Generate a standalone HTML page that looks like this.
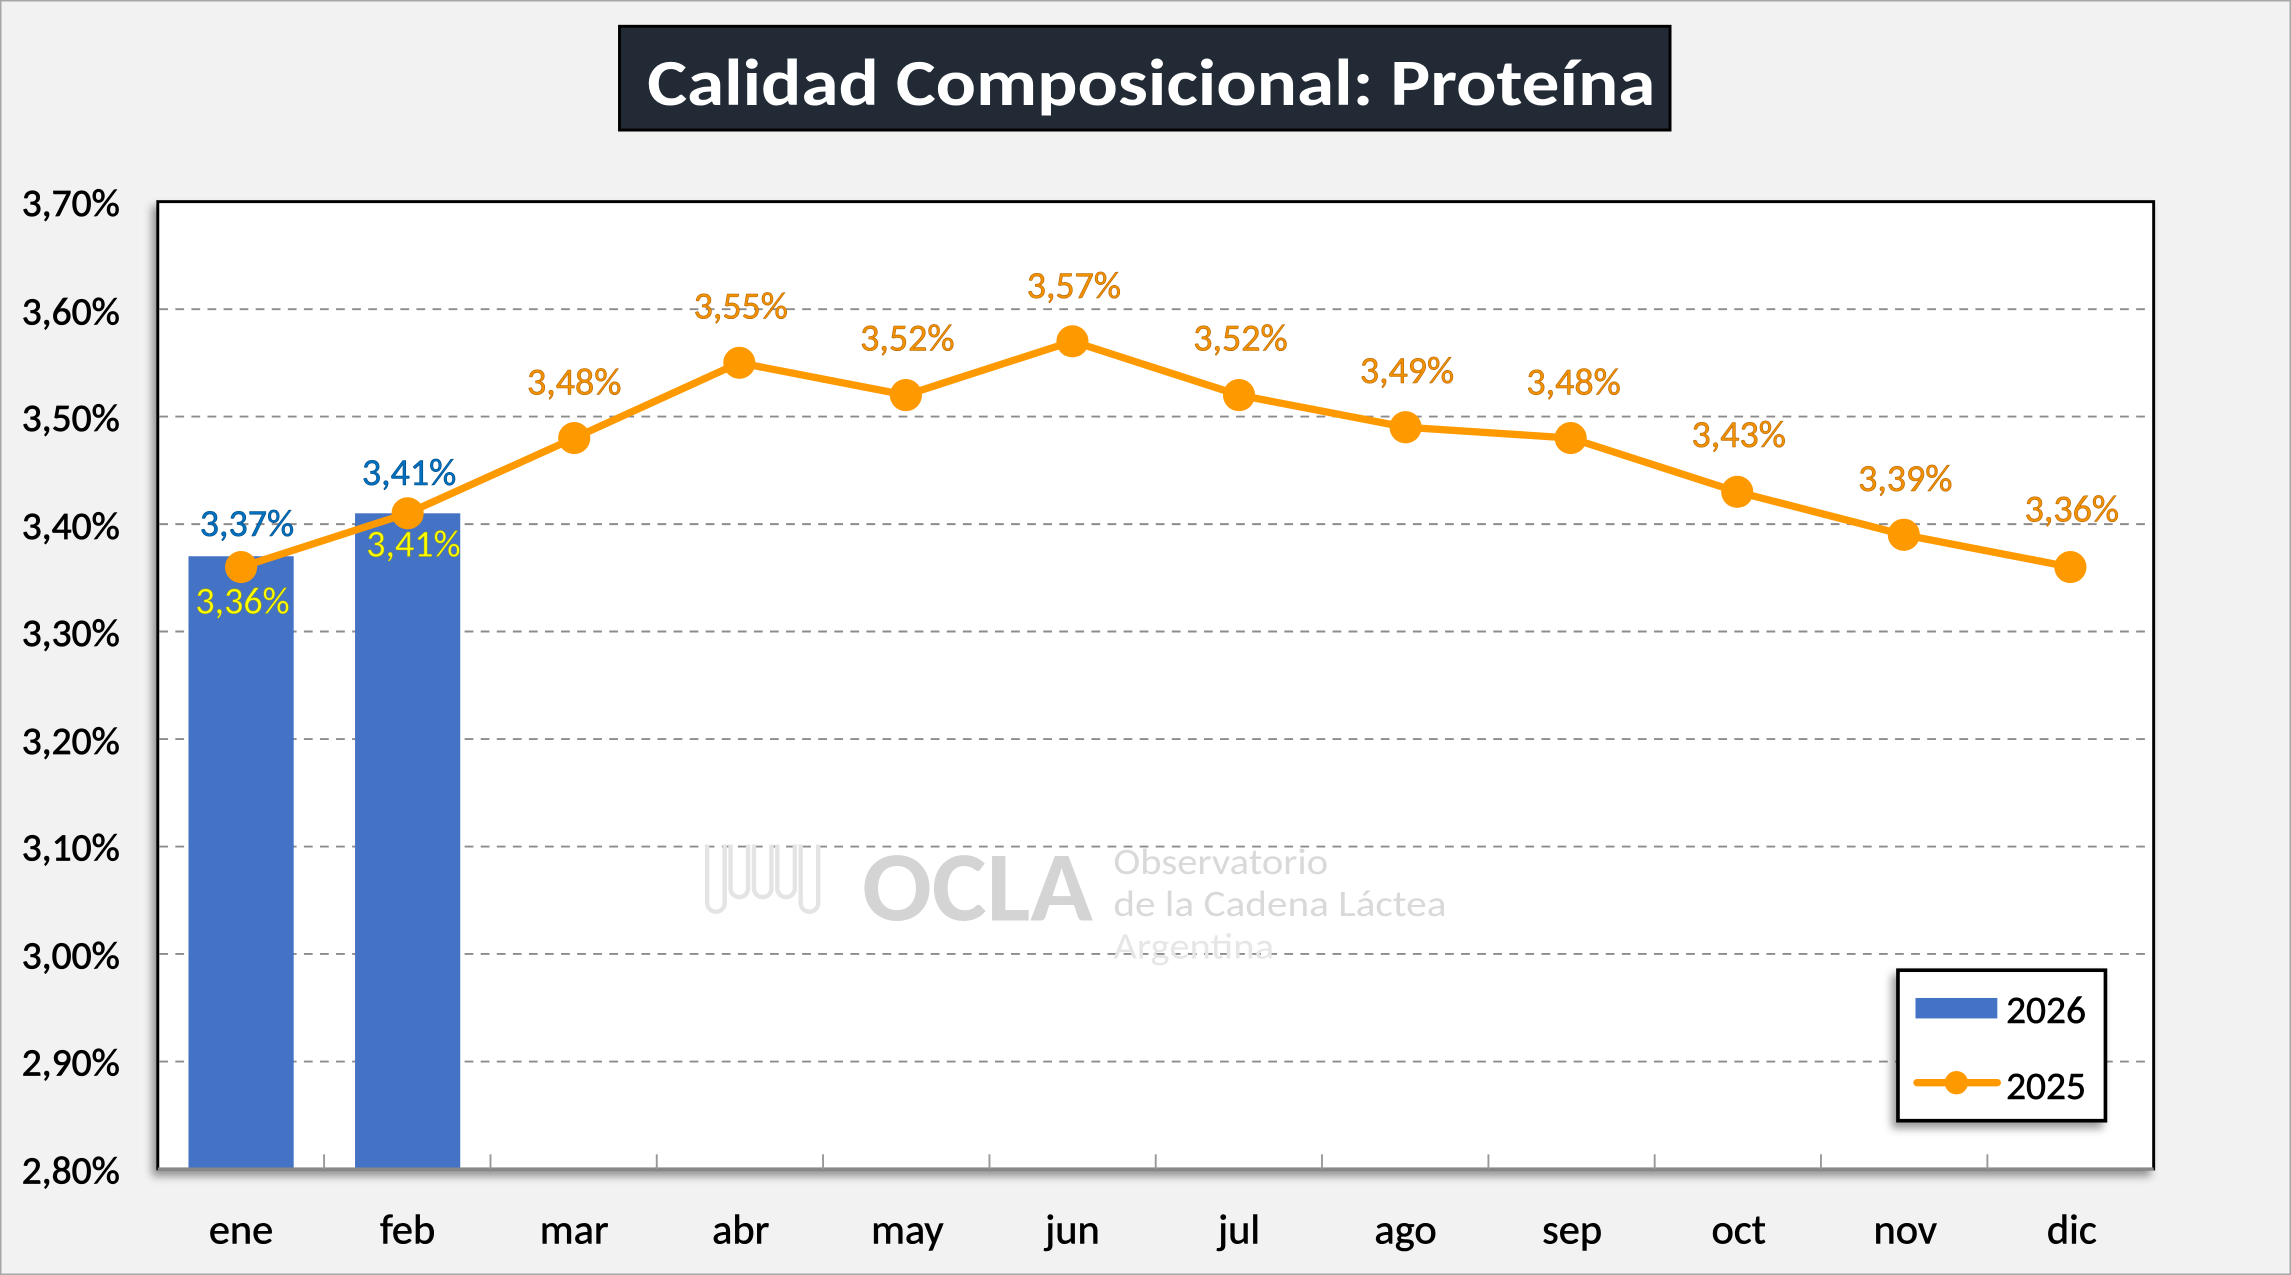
<!DOCTYPE html>
<html><head><meta charset="utf-8"><style>
html,body{margin:0;padding:0;background:#f2f2f2;}
svg{display:block;}
text{font-family:"Carlito","Liberation Sans",sans-serif;}
</style></head><body>
<svg width="2291" height="1275" viewBox="0 0 1568 872.6" preserveAspectRatio="none" xmlns="http://www.w3.org/2000/svg">
<defs>
<filter id="sh" x="-10%" y="-10%" width="130%" height="130%"><feDropShadow dx="-3" dy="4" stdDeviation="3" flood-color="#000" flood-opacity="0.4"/></filter>
</defs>
<rect x="0" y="0" width="1568" height="872.6" fill="#f2f2f2" stroke="#a6a6a6" stroke-width="2"/>
<rect x="424" y="18" width="719" height="71" fill="#222a35" stroke="#000" stroke-width="2"/>
<text x="788" y="72" text-anchor="middle" font-size="45" font-weight="bold" fill="#fff" textLength="690" lengthAdjust="spacingAndGlyphs">Calidad Composicional: Proteína</text>
<rect x="108" y="138" width="1366" height="662" fill="#fff" stroke="#000" stroke-width="2" filter="url(#sh)"/>
<g stroke="#8c8c8c" stroke-width="1.3" stroke-dasharray="6,5">
<line x1="109" x2="1473" y1="211.6" y2="211.6"/><line x1="109" x2="1473" y1="285.1" y2="285.1"/>
<line x1="109" x2="1473" y1="358.7" y2="358.7"/><line x1="109" x2="1473" y1="432.2" y2="432.2"/>
<line x1="109" x2="1473" y1="505.8" y2="505.8"/><line x1="109" x2="1473" y1="579.4" y2="579.4"/>
<line x1="109" x2="1473" y1="652.9" y2="652.9"/><line x1="109" x2="1473" y1="726.5" y2="726.5"/>
</g>
<g fill="#d9d9d9">
<text x="590" y="630" font-size="68" font-weight="bold" fill="#d4d4d4" textLength="158" lengthAdjust="spacingAndGlyphs">OCLA</text>
<text x="762" y="598" font-size="25" textLength="147" lengthAdjust="spacingAndGlyphs">Observatorio</text>
<text x="762" y="627" font-size="25" textLength="228" lengthAdjust="spacingAndGlyphs">de la Cadena Láctea</text>
<text x="762" y="656" font-size="25" fill="#e6e6e6" textLength="110" lengthAdjust="spacingAndGlyphs">Argentina</text>
</g>
<path d="M484 578 v40 a6 6 0 0 0 12 0 v-40 M500 578 v30 a6 6 0 0 0 12 0 v-30 M516 578 v30 a6 6 0 0 0 12 0 v-30 M532 578 v30 a6 6 0 0 0 12 0 v-30 M548 578 v40 a6 6 0 0 0 12 0 v-40" fill="none" stroke="#e4e4e4" stroke-width="3"/>
<rect x="129" y="380.7" width="72" height="419.3" fill="#4472c4"/>
<rect x="243" y="351.3" width="72" height="448.7" fill="#4472c4"/>
<line x1="108" x2="1474" y1="800" y2="800" stroke="#888" stroke-width="2"/>
<g stroke="#999" stroke-width="1.3">
<line x1="221.8" x2="221.8" y1="790" y2="800"/><line x1="335.7" x2="335.7" y1="790" y2="800"/><line x1="449.5" x2="449.5" y1="790" y2="800"/><line x1="563.3" x2="563.3" y1="790" y2="800"/><line x1="677.2" x2="677.2" y1="790" y2="800"/><line x1="791" x2="791" y1="790" y2="800"/><line x1="904.8" x2="904.8" y1="790" y2="800"/><line x1="1018.7" x2="1018.7" y1="790" y2="800"/><line x1="1132.5" x2="1132.5" y1="790" y2="800"/><line x1="1246.3" x2="1246.3" y1="790" y2="800"/><line x1="1360.2" x2="1360.2" y1="790" y2="800"/>
</g>
<polyline points="165,388.1 279,351.3 393,299.8 506,248.3 620,270.4 734,233.6 848,270.4 962,292.4 1075,299.8 1189,336.6 1303,366 1417,388.1" fill="none" stroke="#ff9900" stroke-width="5" stroke-linejoin="round"/>
<g fill="#ff9900">
<circle cx="165" cy="388.1" r="11"/><circle cx="279" cy="351.3" r="11"/><circle cx="393" cy="299.8" r="11"/><circle cx="506" cy="248.3" r="11"/><circle cx="620" cy="270.4" r="11"/><circle cx="734" cy="233.6" r="11"/><circle cx="848" cy="270.4" r="11"/><circle cx="962" cy="292.4" r="11"/><circle cx="1075" cy="299.8" r="11"/><circle cx="1189" cy="336.6" r="11"/><circle cx="1303" cy="366" r="11"/><circle cx="1417" cy="388.1" r="11"/>
</g>
<g font-size="26" text-anchor="middle" fill="#f39200" stroke="#b36200" stroke-width="0.4">
<text x="393" y="270">3,48%</text><text x="507" y="218">3,55%</text><text x="621" y="240">3,52%</text><text x="735" y="204">3,57%</text><text x="849" y="240">3,52%</text><text x="963" y="262">3,49%</text><text x="1077" y="270">3,48%</text><text x="1190" y="306">3,43%</text><text x="1304" y="336">3,39%</text><text x="1418" y="357">3,36%</text>
</g>
<g font-size="26" text-anchor="middle" fill="#0070c0" stroke="#004a80" stroke-width="0.4">
<text x="169" y="367">3,37%</text><text x="280" y="332">3,41%</text>
</g>
<g font-size="26" text-anchor="middle" fill="#ffff00" stroke="#a0a000" stroke-width="0.3">
<text x="166" y="420">3,36%</text><text x="283" y="381">3,41%</text>
</g>
<g font-size="27" text-anchor="end" fill="#000" stroke="#000" stroke-width="0.5">
<text x="82" y="148">3,70%</text><text x="82" y="222">3,60%</text><text x="82" y="295">3,50%</text><text x="82" y="369">3,40%</text><text x="82" y="442">3,30%</text><text x="82" y="516">3,20%</text><text x="82" y="589">3,10%</text><text x="82" y="663">3,00%</text><text x="82" y="736">2,90%</text><text x="82" y="810">2,80%</text>
</g>
<g font-size="29" text-anchor="middle" fill="#000" stroke="#000" stroke-width="0.4">
<text x="165" y="851">ene</text><text x="279" y="851">feb</text><text x="393" y="851">mar</text><text x="507" y="851">abr</text><text x="621" y="851">may</text><text x="734" y="851">jun</text><text x="848" y="851">jul</text><text x="962" y="851">ago</text><text x="1076" y="851">sep</text><text x="1190" y="851">oct</text><text x="1304" y="851">nov</text><text x="1418" y="851">dic</text>
</g>
<rect x="1299" y="664" width="142" height="103" fill="#fff" stroke="#000" stroke-width="2.5" filter="url(#sh)"/>
<rect x="1311" y="683" width="56" height="14" fill="#4472c4"/>
<text x="1373" y="700" font-size="27" fill="#000" stroke="#000" stroke-width="0.4">2026</text>
<line x1="1312" x2="1367" y1="741" y2="741" stroke="#ff9900" stroke-width="5" stroke-linecap="round"/>
<circle cx="1339" cy="741" r="8" fill="#ff9900"/>
<text x="1373" y="752" font-size="27" fill="#000" stroke="#000" stroke-width="0.4">2025</text>
</svg>
</body></html>
